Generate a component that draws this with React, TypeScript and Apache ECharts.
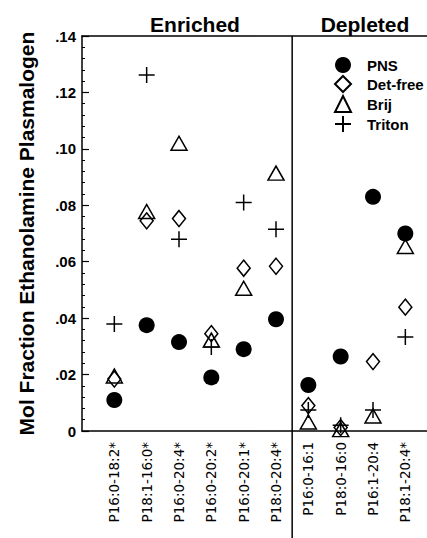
import React, { useEffect, useRef } from "react";
import * as echarts from "echarts";

const categories = [
  "P16:0-18:2*",
  "P18:1-16:0*",
  "P16:0-20:4*",
  "P16:0-20:2*",
  "P16:0-20:1*",
  "P18:0-20:4*",
  "P16:0-16:1",
  "P18:0-16:0",
  "P16:1-20:4",
  "P18:1-20:4*",
];

const pns = [0.011, 0.0375, 0.0315, 0.019, 0.029, 0.0396, 0.0163, 0.0264, 0.083, 0.07];
const detFree = [0.0184, 0.0745, 0.0753, 0.0345, 0.0577, 0.0584, 0.009, 0.0012, 0.0246, 0.0439];
const brij = [0.0195, 0.0778, 0.102, 0.0322, 0.0506, 0.0914, 0.0032, 0.0005, 0.0053, 0.0654];
const triton = [0.0379, 0.1262, 0.068, 0.0298, 0.081, 0.0715, 0.0074, 0.002, 0.0074, 0.0333];

const groupTitles = ["Enriched", "Depleted"];
const yTitle = "Mol Fraction Ethanolamine Plasmalogen";

const toPts = (arr: number[]) => arr.map((v, i) => [i, v]);

const FONT = "'Liberation Sans', Arial, Helvetica, sans-serif";

export default function App() {
  const ref = useRef<HTMLDivElement>(null);
  useEffect(() => {
    if (!ref.current) return;
    const chart = echarts.init(ref.current, null, { renderer: "svg" });
    const openStyle = { color: "transparent", borderColor: "#000", borderWidth: 1.5, opacity: 1 };
    const option: any = {
      animation: false,
      backgroundColor: "#fff",
      grid: { left: 82, right: 0, top: 36, bottom: 107, containLabel: false },
      legend: {
        orient: "vertical",
        left: 329,
        top: 52,
        itemWidth: 16,
        itemHeight: 16,
        itemGap: 2,
        symbolKeepAspect: true,
        textStyle: { fontFamily: FONT, fontWeight: "bold", fontSize: 15, color: "#000", padding: [0, 0, 0, 11] },
        data: ["PNS", "Det-free", "Brij", "Triton"],
      },
      xAxis: [
        {
          type: "value",
          min: -1,
          max: 9.67,
          interval: 1,
          position: "bottom",
          axisLine: { show: true, onZero: false, lineStyle: { color: "#000", width: 1.5 } },
          axisTick: { show: false },
          splitLine: { show: false },
          axisLabel: {
            rotate: 90,
            margin: 11,
            fontFamily: "'DejaVu Sans', sans-serif",
            fontSize: 13.5,
            color: "#000",
            showMaxLabel: false,
            showMinLabel: false,
            formatter: (v: number) => {
              const i = Math.round(v);
              return Math.abs(v - i) < 1e-6 && i >= 0 && i < categories.length ? categories[i] : "";
            },
          },
        },
        {
          type: "value",
          min: -1,
          max: 9.67,
          position: "top",
          axisLine: { show: true, onZero: false, lineStyle: { color: "#000", width: 1.5 } },
          axisTick: { show: false },
          axisLabel: { show: false },
          splitLine: { show: false },
        },
      ],
      yAxis: {
        type: "value",
        min: 0,
        max: 0.14,
        interval: 0.02,
        name: yTitle,
        nameLocation: "middle",
        nameGap: 45,
        nameTextStyle: { fontFamily: FONT, fontWeight: "bold", fontSize: 21, color: "#000" },
        axisLine: { show: true, onZero: false, lineStyle: { color: "#000", width: 1.5 } },
        axisTick: { show: true, inside: true, length: 7, lineStyle: { color: "#000", width: 1.2 } },
        minorTick: { show: true, splitNumber: 5, length: 3, lineStyle: { color: "#000", width: 1 } },
        splitLine: { show: false },
        axisLabel: {
          margin: 6,
          fontFamily: FONT,
          fontWeight: "bold",
          fontSize: 15,
          color: "#000",
          formatter: (v: number) => (v === 0 ? "0" : v.toFixed(2).replace(/^0/, "")),
        },
      },
      series: [
        {
          name: "PNS",
          type: "scatter",
          symbol: "circle",
          symbolSize: 16,
          itemStyle: { color: "#000", opacity: 1 },
          data: toPts(pns),
        },
        {
          name: "Det-free",
          type: "scatter",
          symbol: "diamond",
          symbolSize: [13, 16],
          itemStyle: openStyle,
          data: toPts(detFree),
        },
        {
          name: "Brij",
          type: "scatter",
          symbol: "triangle",
          symbolSize: [16, 14],
          itemStyle: openStyle,
          data: toPts(brij),
        },
        {
          name: "Triton",
          type: "scatter",
          symbol: "path://M0,8L16,8M8,0L8,16",
          symbolSize: 16,
          itemStyle: openStyle,
          data: toPts(triton),
        },
      ],
    };
    chart.setOption(option);
    const px = chart.convertToPixel({ xAxisIndex: 0 }, 5.5) as number;
    chart.setOption({
      graphic: [
        {
          type: "text",
          x: 195,
          y: 24,
          style: {
            text: groupTitles[0],
            fontFamily: FONT,
            fontWeight: "bold",
            fontSize: 21,
            fill: "#000",
            align: "center",
            verticalAlign: "middle",
          },
        },
        {
          type: "text",
          x: 365,
          y: 24,
          style: {
            text: groupTitles[1],
            fontFamily: FONT,
            fontWeight: "bold",
            fontSize: 21,
            fill: "#000",
            align: "center",
            verticalAlign: "middle",
          },
        },
        {
          type: "line",
          shape: { x1: px, y1: 36, x2: px, y2: 538 },
          style: { stroke: "#000", lineWidth: 1.5 },
        },
      ],
    });
    return () => chart.dispose();
  }, []);
  return (
    <div
      ref={ref}
      style={{ position: "absolute", left: 0, top: 0, width: 427, height: 538 }}
    />
  );
}
